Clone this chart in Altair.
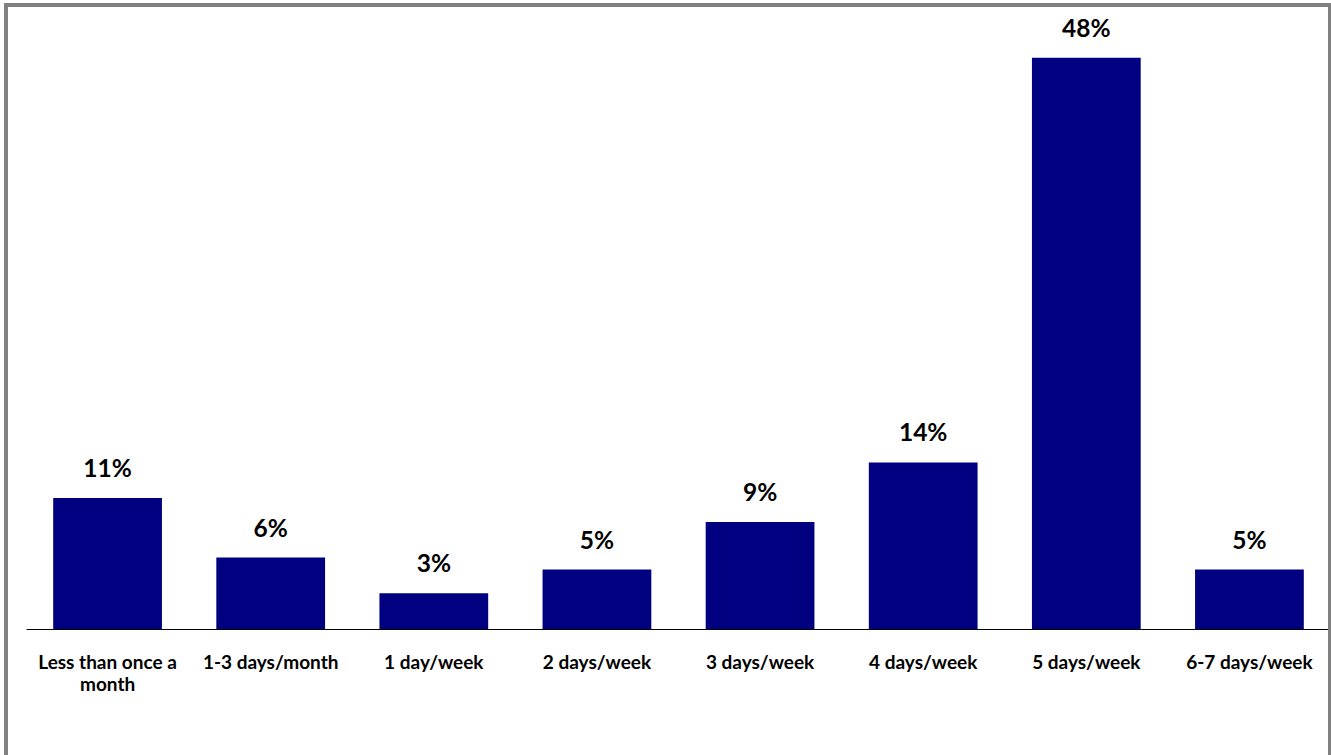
import altair as alt
import pandas as pd

# Survey answers: how often respondents do it
categories = [
    "Less than once a month",
    "1-3 days/month",
    "1 day/week",
    "2 days/week",
    "3 days/week",
    "4 days/week",
    "5 days/week",
    "6-7 days/week",
]
shares = [11, 6, 3, 5, 9, 14, 48, 5]

df = pd.DataFrame({"category": categories, "share": shares})
df["label"] = df["share"].astype(str) + "%"

FONT = "Lato"
NAVY = "#000080"

x_enc = alt.X(
    "category:N",
    sort=categories,
    title=None,
    scale=alt.Scale(paddingInner=1 / 3, paddingOuter=1 / 6),
    axis=alt.Axis(
        labelAngle=0,
        ticks=False,
        grid=False,
        domainColor="#000000",
        domainWidth=1,
        labelFont=FONT,
        labelFontWeight="bold",
        labelFontSize=19,
        labelColor="#000000",
        labelBaseline="top",
        labelPadding=24,
        labelLineHeight=22,
        labelLimit=300,
        labelExpr="datum.label == 'Less than once a month' ? ['Less than once a', 'month'] : datum.label",
    ),
)
y_enc = alt.Y("share:Q", scale=alt.Scale(domain=[0, 50], nice=False), axis=None)

bars = alt.Chart(df).mark_bar(color=NAVY).encode(x=x_enc, y=y_enc)

values = alt.Chart(df).mark_text(
    font=FONT, fontWeight="bold", fontSize=24.5, color="#000000",
    baseline="alphabetic", dy=-21,
).encode(x=alt.X("category:N", sort=categories), y="share:Q", text="label:N")

# Grey frame around the whole figure
frame = alt.Chart(alt.Data(values=[{"k": 1}])).mark_rect(
    fill="transparent", stroke="#808080", strokeWidth=4
).encode(
    x=alt.value(-20), x2=alt.value(1304), y=alt.value(-29), y2=alt.value(745)
)

chart = (
    alt.layer(bars, values, frame)
    .properties(
        width=1305,
        height=595,
        padding={"left": 26, "top": 34, "right": 0, "bottom": 126},
        autosize=alt.AutoSizeParams(type="none"),
        background="#ffffff",
    )
    .configure_view(stroke=None)
)

chart.save("out.html", embed_options={"renderer": "svg", "actions": False})
